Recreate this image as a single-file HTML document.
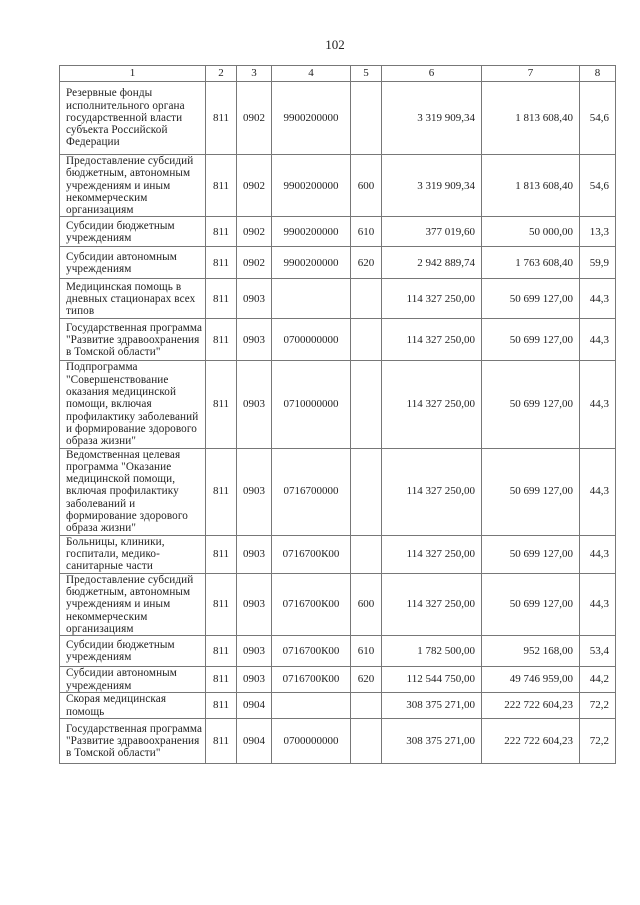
<!DOCTYPE html>
<html><head><meta charset="utf-8"><style>
body{margin:0;width:640px;height:905px;background:#fff;position:relative;font-family:"Liberation Serif","DejaVu Serif",serif;color:#222;}
.pn{position:absolute;top:37px;left:0;width:670px;text-align:center;font-size:13px;}
table{position:absolute;left:59px;top:65px;width:556px;border-collapse:collapse;table-layout:fixed;font-size:11px;line-height:12.3px;}
td{border:1px solid #777;padding:0;vertical-align:middle;text-align:center;overflow:hidden;}
td.t{text-align:left;padding-left:6px;white-space:nowrap;letter-spacing:0.1px;font-size:11.2px;}
td.r{text-align:right;padding-right:6px;}
td.d{border-left:1px dotted #555;}
</style></head><body>
<div class="pn">102</div>
<table>
<colgroup><col style="width:146px"><col style="width:31px"><col style="width:35px"><col style="width:79px"><col style="width:31px"><col style="width:100px"><col style="width:98px"><col style="width:36px"></colgroup>
<tr style="height:16px"><td>1</td><td>2</td><td>3</td><td class="d">4</td><td>5</td><td>6</td><td>7</td><td>8</td></tr>
<tr style="height:73px"><td class="t">Резервные фонды<br>исполнительного органа<br>государственной власти<br>субъекта Российской<br>Федерации</td><td>811</td><td>0902</td><td class="d">9900200000</td><td></td><td class="r">3 319 909,34</td><td class="r">1 813 608,40</td><td class="r">54,6</td></tr>
<tr style="height:61px"><td class="t">Предоставление субсидий<br>бюджетным, автономным<br>учреждениям и иным<br>некоммерческим<br>организациям</td><td>811</td><td>0902</td><td class="d">9900200000</td><td>600</td><td class="r">3 319 909,34</td><td class="r">1 813 608,40</td><td class="r">54,6</td></tr>
<tr style="height:30px"><td class="t">Субсидии бюджетным<br>учреждениям</td><td>811</td><td>0902</td><td class="d">9900200000</td><td>610</td><td class="r">377 019,60</td><td class="r">50 000,00</td><td class="r">13,3</td></tr>
<tr style="height:32px"><td class="t">Субсидии автономным<br>учреждениям</td><td>811</td><td>0902</td><td class="d">9900200000</td><td>620</td><td class="r">2 942 889,74</td><td class="r">1 763 608,40</td><td class="r">59,9</td></tr>
<tr style="height:40px"><td class="t">Медицинская помощь в<br>дневных стационарах всех<br>типов</td><td>811</td><td>0903</td><td class="d"></td><td></td><td class="r">114 327 250,00</td><td class="r">50 699 127,00</td><td class="r">44,3</td></tr>
<tr style="height:42px"><td class="t">Государственная программа<br>"Развитие здравоохранения<br>в Томской области"</td><td>811</td><td>0903</td><td class="d">0700000000</td><td></td><td class="r">114 327 250,00</td><td class="r">50 699 127,00</td><td class="r">44,3</td></tr>
<tr style="height:86px"><td class="t">Подпрограмма<br>"Совершенствование<br>оказания медицинской<br>помощи, включая<br>профилактику заболеваний<br>и формирование здорового<br>образа жизни"</td><td>811</td><td>0903</td><td class="d">0710000000</td><td></td><td class="r">114 327 250,00</td><td class="r">50 699 127,00</td><td class="r">44,3</td></tr>
<tr style="height:87px"><td class="t">Ведомственная целевая<br>программа "Оказание<br>медицинской помощи,<br>включая профилактику<br>заболеваний и<br>формирование здорового<br>образа жизни"</td><td>811</td><td>0903</td><td class="d">0716700000</td><td></td><td class="r">114 327 250,00</td><td class="r">50 699 127,00</td><td class="r">44,3</td></tr>
<tr style="height:38px"><td class="t">Больницы, клиники,<br>госпитали, медико-<br>санитарные части</td><td>811</td><td>0903</td><td class="d">0716700К00</td><td></td><td class="r">114 327 250,00</td><td class="r">50 699 127,00</td><td class="r">44,3</td></tr>
<tr style="height:61px"><td class="t">Предоставление субсидий<br>бюджетным, автономным<br>учреждениям и иным<br>некоммерческим<br>организациям</td><td>811</td><td>0903</td><td class="d">0716700К00</td><td>600</td><td class="r">114 327 250,00</td><td class="r">50 699 127,00</td><td class="r">44,3</td></tr>
<tr style="height:31px"><td class="t">Субсидии бюджетным<br>учреждениям</td><td>811</td><td>0903</td><td class="d">0716700К00</td><td>610</td><td class="r">1 782 500,00</td><td class="r">952 168,00</td><td class="r">53,4</td></tr>
<tr style="height:26px"><td class="t">Субсидии автономным<br>учреждениям</td><td>811</td><td>0903</td><td class="d">0716700К00</td><td>620</td><td class="r">112 544 750,00</td><td class="r">49 746 959,00</td><td class="r">44,2</td></tr>
<tr style="height:26px"><td class="t">Скорая медицинская<br>помощь</td><td>811</td><td>0904</td><td class="d"></td><td></td><td class="r">308 375 271,00</td><td class="r">222 722 604,23</td><td class="r">72,2</td></tr>
<tr style="height:45px"><td class="t">Государственная программа<br>"Развитие здравоохранения<br>в Томской области"</td><td>811</td><td>0904</td><td class="d">0700000000</td><td></td><td class="r">308 375 271,00</td><td class="r">222 722 604,23</td><td class="r">72,2</td></tr>
</table>
</body></html>
